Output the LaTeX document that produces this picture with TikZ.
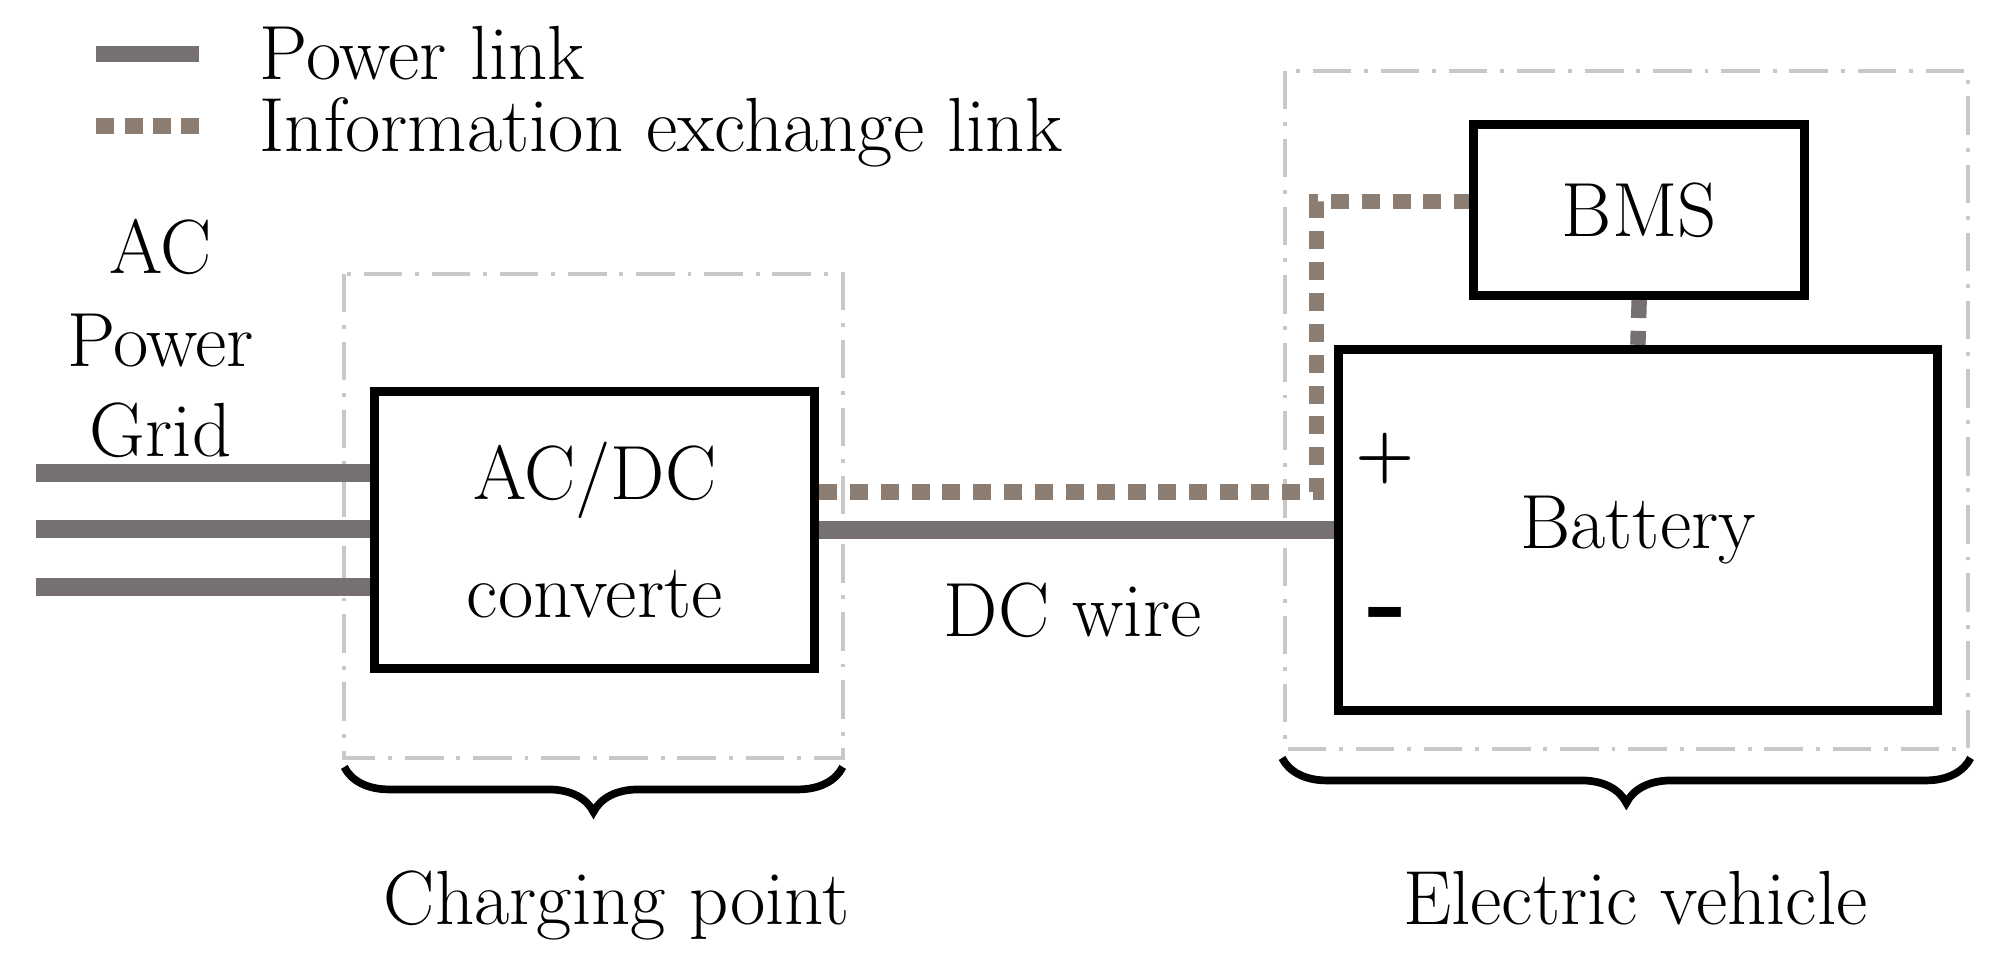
\documentclass[tikz,border=0pt]{standalone}
\usetikzlibrary{decorations.pathreplacing}
\begin{document}
\begin{tikzpicture}[x=0.01cm,y=-0.01cm,
  pw/.style={line width=0.14cm,color=pgray},
  info/.style={line width=0.12cm,color=ibrown,dash pattern=on 0.14cm off 0.1cm},
  blk/.style={draw=black,line width=0.07cm},
  grp/.style={draw=lgray,line width=0.03cm,dash pattern=on 0.3cm off 0.1cm on 0.03cm off 0.1cm},
  br/.style={decorate,decoration={brace,mirror,amplitude=0.35cm},line width=0.06cm},
  txt/.style={font=\fontsize{17}{20}\selectfont,inner sep=1pt}]
\definecolor{pgray}{RGB}{118,112,112}
\definecolor{ibrown}{RGB}{140,125,115}
\definecolor{lgray}{RGB}{200,200,200}
\useasboundingbox (0,0) rectangle (1560,750);
% legend
\coordinate (l1a) at (75,42); \coordinate (l1b) at (155,42);
\coordinate (l2a) at (75,98); \coordinate (l2b) at (155,98);
\draw[pw,line width=0.12cm] (l1a)--(l1b);
\draw[info,dash pattern=on 0.14cm off 0.08cm] (l2a)--(l2b);
\node[txt,anchor=base west] (lg1) at (198,62) {Power link};
\node[txt,anchor=base west] (lg2) at (198,118) {Information exchange link};
% groups
\draw[grp] (268,213) rectangle (656,590);
\draw[grp] (1000,55) rectangle (1532,583);
\node[blk,minimum width=3.42cm,minimum height=2.15cm,txt,align=center] (conv) at (463,412.5) {AC/DC\\[6pt]converte};
\node[blk,minimum width=2.58cm,minimum height=1.33cm,txt] (bms) at (1276,163.5) {BMS};
\node[blk,minimum width=4.66cm,minimum height=2.81cm,txt] (bat) at (1275,412.5) {Battery};
\node[font=\bfseries\fontsize{15}{15}\selectfont] (plus) at (1078,357) {+};
\node[font=\bfseries\fontsize{24}{24}\selectfont] (minus) at (1080,484) {-};
% AC grid
\node[txt,anchor=base] (ac1) at (125,213) {AC};
\node[txt,anchor=base] (ac2) at (125,285) {Power};
\node[txt,anchor=base] (ac3) at (125,355) {Grid};
\foreach \y/\n in {368/a,412/b,457/c}{
  \coordinate (g\n) at (28,\y);
  \draw[pw] (g\n) -- (conv.west |- g\n);}
% DC wire
\draw[pw] (conv.east) -- (bat.west);
\node[txt] (dcw) at (835,475) {DC wire};
% info links
\coordinate (i1) at (1025,383);
\coordinate (i2) at (1025,157);
\draw[info] (conv.east |- i1) -- (i1) -- (i2) -- (bms.west |- i2);
\draw[info,color=pgray] (bms.south) -- (bat.north);
% braces
\coordinate (b1a) at (268,597); \coordinate (b1b) at (656,597);
\coordinate (b2a) at (998,590); \coordinate (b2b) at (1534,590);
\draw[br] (b1a) -- (b1b);
\draw[br] (b2a) -- (b2b);
\node[txt,anchor=base] (cp) at (480,720) {Charging point};
\node[txt,anchor=base] (ev) at (1273,720) {Electric vehicle};
\end{tikzpicture}
\end{document}
